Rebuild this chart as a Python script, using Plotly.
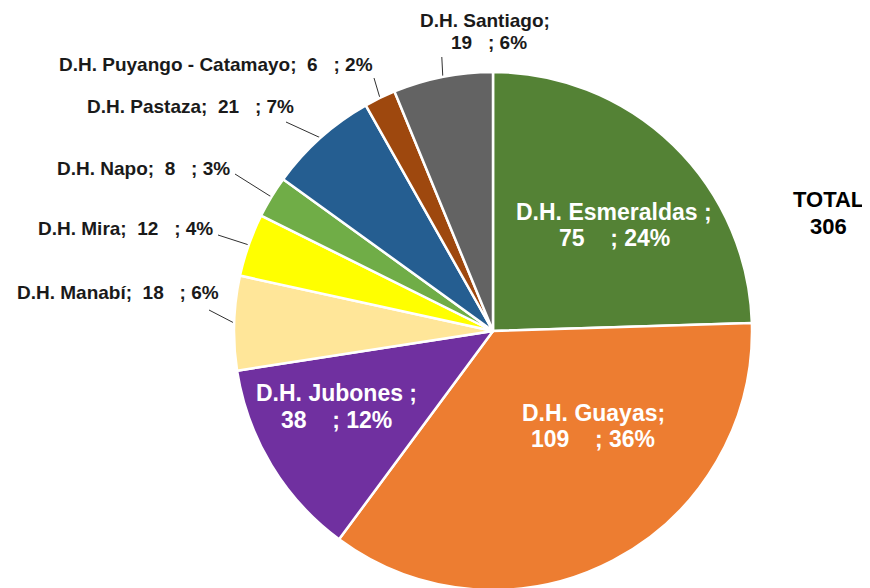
"""Demarcaciones hidrográficas: pie chart with outside leader-line labels."""

import math

import plotly.graph_objects as go

categories = [
    "D.H. Esmeraldas",
    "D.H. Guayas",
    "D.H. Jubones",
    "D.H. Manabí",
    "D.H. Mira",
    "D.H. Napo",
    "D.H. Pastaza",
    "D.H. Puyango - Catamayo",
    "D.H. Santiago",
]
label_names = [
    "D.H. Esmeraldas ;",
    "D.H. Guayas;",
    "D.H. Jubones ;",
    "D.H. Manabí;",
    "D.H. Mira;",
    "D.H. Napo;",
    "D.H. Pastaza;",
    "D.H. Puyango - Catamayo;",
    "D.H. Santiago;",
]
values = [75, 109, 38, 18, 12, 8, 21, 6, 19]
percents = ["24%", "36%", "12%", "6%", "4%", "3%", "7%", "2%", "6%"]
total_lines = ["TOTAL", "306"]

colors = [
    "#548235", "#ED7D31", "#7030A0", "#FFE699", "#FFFF00",
    "#70AD47", "#255E91", "#9E480E", "#636363",
]

W, H = 870, 588
OFF = 8  # page body margin: layout below is in window pixels
CX, CY, R = 493, 331, 259
FONT = "Liberation Sans, Arial, sans-serif"
NB = "\u00a0"

fig = go.Figure()
fig.add_trace(
    go.Pie(
        labels=categories,
        values=values,
        sort=False,
        direction="clockwise",
        rotation=0,
        marker=dict(colors=colors, line=dict(color="white", width=2.5)),
        textinfo="none",
        hoverinfo="label+value+percent",
        domain=dict(
            x=[(CX - R - OFF) / W, (CX + R - OFF) / W],
            y=[max(0, 1 - (CY + R - OFF) / H), 1 - (CY - R - OFF) / H],
        ),
    )
)


def edge_point(i):
    """Point on the rim at the middle angle of slice i (window pixels)."""
    before = sum(values[:i])
    theta = 2 * math.pi * (before + values[i] / 2) / sum(values)
    return CX + R * math.sin(theta), CY - R * math.cos(theta)


def text(x, y, s, size, color, xanchor="center"):
    fig.add_annotation(
        x=x, y=y, xref="x", yref="y", showarrow=False, xanchor=xanchor,
        text=s, font=dict(family=FONT, size=size, color=color, weight="bold"),
    )


# inside labels: (index, x center, line-1 y, line-2 y)
inside = [(0, 614, 212, 238), (1, 593, 413, 439), (2, 336, 393, 420)]
for i, x, y1, y2 in inside:
    text(x, y1, label_names[i], 23, "white")
    text(x, y2, f"{values[i]}{NB * 4};{NB}{percents[i]}", 23, "white")

# outside labels: (index, label right x, label y, elbow x, elbow y)
outside = [
    (3, 221, 292, 209, 310),
    (4, 215, 228, 220, 235),
    (5, 232, 168, 235, 174),
    (6, 296, 106, 286, 122),
    (7, 375, 64, 374, 78),
]
for i, lx, ly, ex, ey in outside:
    px, py = edge_point(i)
    fig.add_trace(
        go.Scatter(
            x=[px, ex, min(lx + 3, ex)], y=[py, ey, ey],
            mode="lines", line=dict(color="#303030", width=1),
            hoverinfo="skip", showlegend=False,
        )
    )
    text(lx, ly, f"{label_names[i]}{NB * 2}{values[i]}{NB * 3};{NB}{percents[i]}",
         19, "#1a1a1a", xanchor="right")

# Santiago label sits above its slice
px, py = edge_point(8)
fig.add_trace(
    go.Scatter(
        x=[px, px - 1], y=[py, 57], mode="lines",
        line=dict(color="#303030", width=1), hoverinfo="skip", showlegend=False,
    )
)
text(485, 20, label_names[8], 19, "#1a1a1a")
text(489, 42, f"{values[8]}{NB * 3};{NB}{percents[8]}", 19, "#1a1a1a")

text(828, 199, total_lines[0], 22, "black")
text(828, 226, total_lines[1], 22, "black")

fig.update_layout(
    width=W,
    height=H,
    margin=dict(l=0, r=0, t=0, b=0),
    paper_bgcolor="white",
    plot_bgcolor="rgba(0,0,0,0)",
    showlegend=False,
    xaxis=dict(range=[OFF, W + OFF], visible=False, fixedrange=True),
    yaxis=dict(range=[H + OFF, OFF], visible=False, fixedrange=True),
)

fig.write_html("out.html")
